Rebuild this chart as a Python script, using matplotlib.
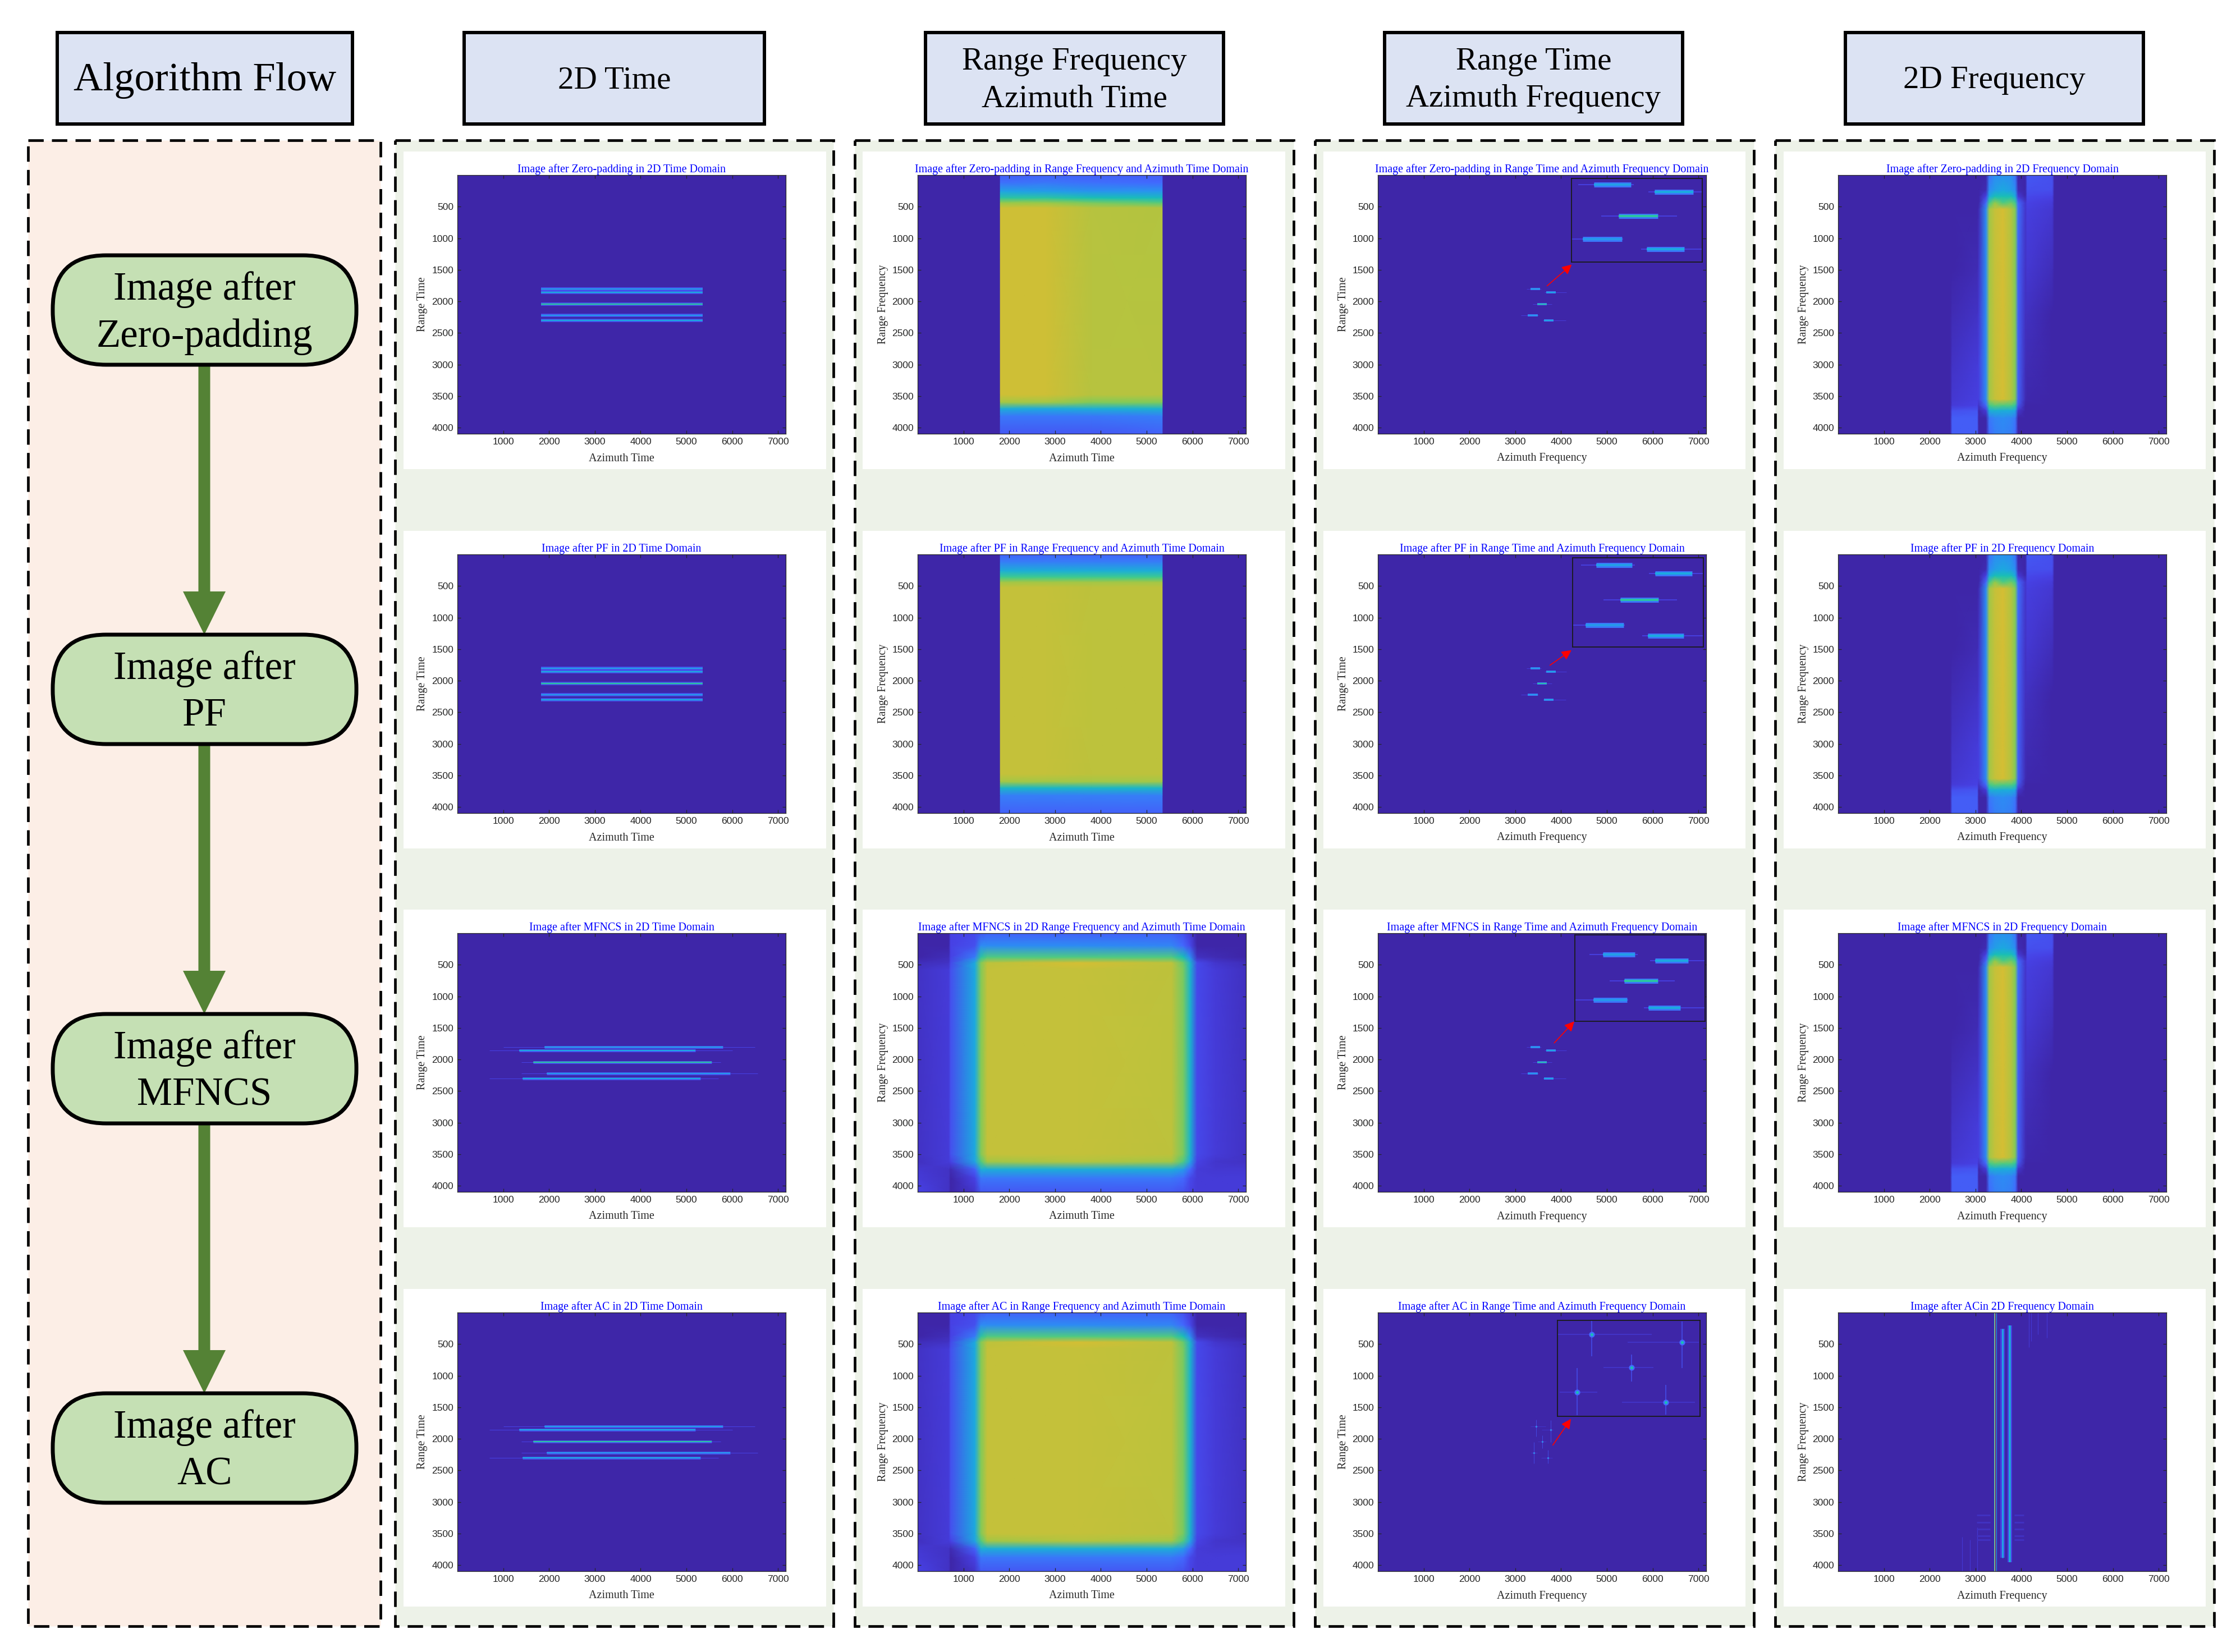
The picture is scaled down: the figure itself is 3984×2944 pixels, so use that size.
import matplotlib
matplotlib.use("Agg")
import numpy as np
import matplotlib.pyplot as plt
from matplotlib.colors import LinearSegmentedColormap
from matplotlib.patches import Rectangle, FancyBboxPatch

W, H = 3984, 2944

# matlab parula, sampled
PARULA = LinearSegmentedColormap.from_list("parula", [
    (0.2422, 0.1504, 0.6603), (0.2783, 0.2559, 0.8991), (0.2602, 0.4123, 0.9952),
    (0.1764, 0.5499, 0.9520), (0.1113, 0.6635, 0.8763), (0.0964, 0.7500, 0.7120),
    (0.2470, 0.7918, 0.5567), (0.5616, 0.7942, 0.3045), (0.9035, 0.7330, 0.1774),
    (0.9892, 0.8136, 0.1885), (0.9769, 0.9839, 0.0805)])

HEADERS = ["Algorithm Flow", "2D Time", "Range Frequency\nAzimuth Time",
           "Range Time\nAzimuth Frequency", "2D Frequency"]
STEPS = ["Image after\nZero-padding", "Image after\nPF", "Image after\nMFNCS", "Image after\nAC"]
X_LABELS = ["Azimuth Time", "Azimuth Time", "Azimuth Frequency", "Azimuth Frequency"]
Y_LABELS = ["Range Time", "Range Frequency", "Range Time", "Range Frequency"]
TITLES = [
    ["Image after Zero-padding in 2D Time Domain", "Image after PF in 2D Time Domain",
     "Image after MFNCS in 2D Time Domain", "Image after AC in 2D Time Domain"],
    ["Image after Zero-padding in Range Frequency and Azimuth Time Domain",
     "Image after PF in Range Frequency and Azimuth Time Domain",
     "Image after MFNCS in 2D Range Frequency and Azimuth Time Domain",
     "Image after AC in Range Frequency and Azimuth Time Domain"],
    ["Image after Zero-padding in Range Time and Azimuth Frequency Domain",
     "Image after PF in Range Time and Azimuth Frequency Domain",
     "Image after MFNCS in Range Time and Azimuth Frequency Domain",
     "Image after AC in Range Time and Azimuth Frequency Domain"],
    ["Image after Zero-padding in 2D Frequency Domain", "Image after PF in 2D Frequency Domain",
     "Image after MFNCS in 2D Frequency Domain", "Image after ACin 2D Frequency Domain"],
]
X_TICKS = [1000, 2000, 3000, 4000, 5000, 6000, 7000]
Y_TICKS = [500, 1000, 1500, 2000, 2500, 3000, 3500, 4000]
X_MAX, Y_MAX = 7168, 4096

# 2D time domain: range position of each target
line_y = [1800, 1860, 2045, 2225, 2300]
line_level = [0.36, 0.40, 0.55, 0.34, 0.40]
# before MFNCS all lines have the same span
zp_x0 = [1820, 1820, 1820, 1820, 1820]
zp_x1 = [5350, 5350, 5350, 5350, 5350]
# after MFNCS
mf_x0 = [1900, 1350, 1650, 1950, 1420]
mf_x1 = [5800, 5200, 5550, 5950, 5300]
mf_tail0 = [1000, 700, 1400, 1400, 700]
mf_tail1 = [6500, 6000, 5750, 6550, 5700]

# range time / azimuth frequency: short segments
seg_x0 = [3337, 3675, 3475, 3275, 3632]
seg_x1 = [3544, 3888, 3694, 3494, 3838]
seg_tail0 = [3250, 3640, 3380, 3130, 3600]
seg_tail1 = [3560, 4120, 3800, 3500, 4100]
# focused points after AC
pt_x = [3456, 3770, 3594, 3406, 3713]
pt_h0 = [3338, 3581, 3497, 3345, 3562]
pt_h1 = [3665, 3829, 3671, 3476, 3815]
pt_v0 = [1697, 1706, 1948, 2049, 2174]
pt_v1 = [1963, 2049, 2146, 2393, 2389]

# zoom boxes: box x0, x1, y0, y1, shown xlim, shown ylim, red arrow tail and tip
inset_box = [[4233, 7088, 57, 1381], [4252, 7101, 55, 1469], [4302, 7138, 24, 1394], [3920, 7038, 121, 1644]]
inset_xlim = [[3215, 3940], [3202, 3950], [3155, 3996], [3338, 3833]]
inset_ylim = [[1756, 2403], [1749, 2382], [1615, 2425], [1697, 2403]]
arrow_tail = [[3695, 1754], [3757, 1755], [3851, 1738], [3820, 2100]]
arrow_tip = [[4233, 1416], [4227, 1516], [4289, 1397], [4214, 1685]]

# range frequency / azimuth time levels
rf_x = [0, 1795, 1805, 2800, 3800, 5345, 5355, X_MAX]
rf_y = [0, 120, 260, 360, 440, 520, 3480, 3600, 3700, 3820, Y_MAX]
rf_zp = [
    [0, 0, .17, .18, .18, .17, 0, 0],
    [0, 0, .22, .24, .22, .20, 0, 0],
    [0, 0, .38, .36, .33, .33, 0, 0],
    [0, 0, .55, .55, .50, .48, 0, 0],
    [0, 0, .71, .71, .67, .63, 0, 0],
    [0, 0, .77, .77, .745, .74, 0, 0],
    [0, 0, .77, .77, .745, .745, 0, 0],
    [0, 0, .72, .72, .68, .68, 0, 0],
    [0, 0, .42, .40, .42, .44, 0, 0],
    [0, 0, .24, .24, .24, .26, 0, 0],
    [0, 0, .16, .16, .16, .18, 0, 0],
]
rf_pf = [
    [0, 0, .18, .19, .19, .18, 0, 0],
    [0, 0, .26, .26, .26, .26, 0, 0],
    [0, 0, .42, .42, .42, .42, 0, 0],
    [0, 0, .60, .60, .60, .60, 0, 0],
    [0, 0, .72, .72, .72, .72, 0, 0],
    [0, 0, .76, .76, .75, .75, 0, 0],
    [0, 0, .76, .76, .75, .75, 0, 0],
    [0, 0, .72, .72, .72, .72, 0, 0],
    [0, 0, .46, .46, .46, .46, 0, 0],
    [0, 0, .26, .26, .26, .26, 0, 0],
    [0, 0, .18, .18, .18, .18, 0, 0],
]
mf_mesh_x = [0, 680, 720, 1250, 1380, 1520, 3500, 5550, 5800, 5950, 6100, 6500, X_MAX]
mf_mesh_y = [0, 200, 380, 470, 580, 3500, 3620, 3740, 3880, Y_MAX]
rf_mf = [
    [0, 0, .10, .12, .16, .18, .18, .18, .14, .08, 0, 0, 0],
    [0, 0, .10, .14, .30, .30, .30, .28, .20, .12, 0, 0, 0],
    [0, .03, .10, .25, .55, .62, .62, .62, .50, .30, .04, .02, 0],
    [.03, .05, .12, .40, .68, .75, .78, .75, .65, .45, .12, .06, .03],
    [.05, .08, .14, .40, .68, .76, .76, .75, .67, .45, .12, .08, .04],
    [.05, .08, .14, .40, .68, .76, .76, .75, .67, .45, .12, .08, .05],
    [.04, .08, .10, .38, .62, .72, .74, .72, .62, .38, .10, .06, .05],
    [.07, .05, .02, .18, .42, .42, .42, .42, .35, .20, .08, .07, .07],
    [.08, .05, 0, .10, .24, .24, .24, .24, .20, .12, .08, .08, .08],
    [.10, .05, 0, .06, .16, .16, .16, .16, .14, .10, .08, .08, .08],
]

# 2D frequency levels
ff_x = [0, 2450, 2490, 3040, 3070, 3230, 3300, 3420, 3600, 3780, 3870, 3930, 4090, 4130, 4680, 4720, X_MAX]
ff_y = [0, 240, 340, 440, 540, 1500, 2200, 3000, 3550, 3650, 3730, 3850, Y_MAX]
ff_levels = [
    [0, 0, 0, 0, 0, 0, .22, .30, .32, .30, .22, 0, 0, .16, .14, 0, 0],
    [0, 0, 0, 0, 0, .02, .30, .36, .40, .36, .30, .02, 0, .14, .13, 0, 0],
    [0, 0, 0, 0, 0, .10, .40, .50, .50, .50, .40, .08, .01, .12, .10, 0, 0],
    [0, 0, 0, 0, 0, .20, .60, .70, .62, .66, .60, .20, .06, .10, .08, 0, 0],
    [0, 0, 0, 0, .02, .30, .72, .76, .78, .74, .68, .22, .06, .09, .07, 0, 0],
    [0, 0, 0, .02, .05, .30, .72, .76, .78, .74, .68, .18, .05, .07, .03, 0, 0],
    [0, 0, .02, .05, .07, .30, .72, .76, .78, .74, .68, .18, .04, .04, 0, 0, 0],
    [0, 0, .05, .08, .09, .30, .72, .76, .78, .74, .68, .18, .03, .02, 0, 0, 0],
    [0, 0, .07, .09, .09, .30, .72, .76, .78, .74, .68, .18, .02, .01, 0, 0, 0],
    [0, 0, .08, .10, .05, .20, .60, .64, .62, .62, .56, .15, 0, 0, 0, 0, 0],
    [0, 0, .14, .15, .01, .08, .42, .44, .42, .42, .38, .06, 0, 0, 0, 0, 0],
    [0, 0, .17, .17, 0, 0, .24, .28, .30, .28, .24, 0, 0, 0, 0, 0, 0],
    [0, 0, .17, .17, 0, 0, .20, .26, .28, .26, .20, 0, 0, 0, 0, 0, 0],
]
# 2D frequency after AC: vertical lines
ac_x = [3406, 3420, 3456, 3588, 3745]
ac_y0 = [0, 0, 0, 260, 200]
ac_y1 = [4096, 4096, 4096, 3880, 3950]
ac_level = [0.42, 0.82, 0.42, 0.38, 0.42]
ac_lw = [1, 1, 1, 3, 3.5]
ac_faint_x = [2710, 2880, 3040, 4170, 4210, 4360, 4560]
ac_faint_y0 = [3550, 3600, 3400, 0, 0, 0, 0]
ac_faint_y1 = [4096, 4096, 4096, 550, 450, 350, 400]
ac_blot_y = [3210, 3320, 3430, 3540, 3600]
ac_blot_x0 = [3030, 3030, 3030, 3030, 3030]
ac_blot_x1 = [3320, 3320, 3320, 3320, 3320]
ac_blot_r0 = [3850, 3850, 3850, 3850, 3850]
ac_blot_r1 = [4050, 4050, 4050, 4050, 4050]

# figure layout, in pixels
HEADER_BOX = [(102, 628), (827, 1362), (1649, 2180), (2467, 2998), (3288, 3819)]
COLUMN_BOX = [(50, 678), (704, 1485), (1523, 2305), (2343, 3125), (3163, 3945)]
PANEL_X = [(719, 1472), (1537, 2290), (2358, 3110), (3178, 3930)]
AXES_X = [(815, 1400), (1635, 2220), (2455, 3040), (3275, 3860)]
ROW_TOP = [270, 946, 1621, 2297]
PILL_TOP = [455, 1131, 1807, 2483]

plt.rcParams["font.family"] = "Liberation Serif"
fig = plt.figure(figsize=(W / 100, H / 100), dpi=100)
bg = fig.add_axes([0, 0, 1, 1])
bg.set_xlim(0, W)
bg.set_ylim(H, 0)
bg.axis("off")


def px_axes(x0, y0, x1, y1):
    """Axes placed by figure pixels, y going down."""
    return fig.add_axes([x0 / W, 1 - y1 / H, (x1 - x0) / W, (y1 - y0) / H])


def draw_lines(ax, y, x0, x1, level, lw):
    ax.hlines(y, x0, x1, color=PARULA(level), lw=np.asarray(lw) * 0.72, capstyle="butt")


def draw_vlines(ax, x, y0, y1, level, lw):
    ax.vlines(x, y0, y1, color=PARULA(level), lw=np.asarray(lw) * 0.72, capstyle="butt")


def draw_mesh(ax, xs, ys, levels):
    ax.pcolormesh(xs, ys, np.array(levels), cmap=PARULA, vmin=0, vmax=1, shading="gouraud")


def draw_segments(ax, core):
    draw_lines(ax, line_y, seg_tail0, seg_tail1, 0.1, core * 0.2)
    draw_lines(ax, line_y, seg_x0, seg_x1, 0.24, core)
    draw_lines(ax, line_y, seg_x0, seg_x1, line_level, core * 0.45)


def draw_points(ax, lw, size):
    draw_lines(ax, line_y, pt_h0, pt_h1, 0.07, lw)
    draw_vlines(ax, pt_x, pt_v0, pt_v1, 0.14, lw)
    ax.scatter(pt_x, line_y, s=size, color=PARULA(0.2), lw=0, zorder=3)
    ax.scatter(pt_x, line_y, s=size * 0.25, color=PARULA(0.5), lw=0, zorder=4)


def draw_inset(ax, row):
    x0, x1, y0, y1 = inset_box[row]
    inset = ax.inset_axes([x0 / X_MAX, 1 - y1 / Y_MAX, (x1 - x0) / X_MAX, (y1 - y0) / Y_MAX])
    inset.set_facecolor(PARULA(0))
    if row == 3:
        draw_points(inset, 1.5, 55)
    else:
        draw_segments(inset, 9)
    inset.set_xlim(*inset_xlim[row])
    inset.set_ylim(inset_ylim[row][1], inset_ylim[row][0])
    inset.set_xticks([])
    inset.set_yticks([])
    for spine in inset.spines.values():
        spine.set_color("#1a1a1a")
        spine.set_linewidth(1.3)
    ax.annotate("", xy=arrow_tip[row], xytext=arrow_tail[row],
                arrowprops=dict(arrowstyle="-|>", color="red", lw=1.2, mutation_scale=26,
                                shrinkA=0, shrinkB=0))


def draw_panel(ax, col, row):
    ax.set_facecolor(PARULA(0))
    if col == 0:
        if row < 2:
            draw_lines(ax, line_y, zp_x0, zp_x1, 0.13, 6)
            draw_lines(ax, line_y, zp_x0, zp_x1, line_level, 2.5)
        else:
            draw_lines(ax, line_y, mf_tail0, mf_tail1, 0.1, 1)
            draw_lines(ax, line_y, mf_x0, mf_x1, 0.15, 5)
            draw_lines(ax, line_y, mf_x0, mf_x1, line_level, 2.2)
    elif col == 1:
        if row == 0:
            draw_mesh(ax, rf_x, rf_y, rf_zp)
        elif row == 1:
            draw_mesh(ax, rf_x, rf_y, rf_pf)
        else:
            draw_mesh(ax, mf_mesh_x, mf_mesh_y, rf_mf)
    elif col == 2:
        if row < 3:
            draw_segments(ax, 4)
        else:
            draw_points(ax, 0.8, 6)
        draw_inset(ax, row)
    else:
        if row < 3:
            draw_mesh(ax, ff_x, ff_y, ff_levels)
        else:
            draw_vlines(ax, ac_faint_x, ac_faint_y0, ac_faint_y1, 0.07, 1.2)
            draw_lines(ax, ac_blot_y, ac_blot_x0, ac_blot_x1, 0.04, 3)
            draw_lines(ax, ac_blot_y, ac_blot_r0, ac_blot_r1, 0.04, 3)
            draw_vlines(ax, ac_x[3:], ac_y0[3:], ac_y1[3:], 0.1, 8)
            draw_vlines(ax, ac_x, ac_y0, ac_y1, ac_level, ac_lw)

    ax.set_xlim(0, X_MAX)
    ax.set_ylim(Y_MAX, 0)
    ax.set_xticks(X_TICKS)
    ax.set_yticks(Y_TICKS)
    ax.tick_params(which="both", direction="in", top=True, right=True, length=4.5, width=0.9,
                   color="#262626", labelcolor="#262626", labelsize=12.6, pad=5)
    for lab in ax.get_xticklabels() + ax.get_yticklabels():
        lab.set_family("Liberation Sans")
    for spine in ax.spines.values():
        spine.set_color("#262626")
        spine.set_linewidth(0.9)
    ax.set_title(TITLES[col][row], color="blue", fontsize=14.4, pad=2.5)
    ax.set_xlabel(X_LABELS[col], fontsize=14.5, va="center", color="#262626")
    ax.set_ylabel(Y_LABELS[col], fontsize=14.5, va="center", color="#262626")
    ax.xaxis.set_label_coords(0.5, -44 / 461)
    ax.yaxis.set_label_coords(-62 / 585, 0.5)


# column frames
for i, (x0, x1) in enumerate(COLUMN_BOX):
    face = "#fceee6" if i == 0 else "#edf2e8"
    bg.add_patch(Rectangle((x0, 250), x1 - x0, 2648, fc=face, ec="black", lw=3.4,
                           ls=(0, (5.8, 3.1))))

# header boxes
for (x0, x1), label in zip(HEADER_BOX, HEADERS):
    bg.add_patch(Rectangle((x0, 58), x1 - x0, 163, fc="#dce3f3", ec="black", lw=4.3))
    size = 52 if label == "Algorithm Flow" else 41
    bg.text((x0 + x1) / 2, 143, label, fontsize=size, ha="center", va="center", linespacing=1.36)

# algorithm flow column
for k, top in enumerate(PILL_TOP):
    if k < 3:
        bg.arrow(364, top + 195, 0, PILL_TOP[k + 1] - top - 195, width=21, head_width=76,
                 head_length=77, length_includes_head=True, fc="#548235", ec="none", zorder=2)
    bg.add_patch(FancyBboxPatch((94, top), 541, 195, boxstyle="round,pad=0,rounding_size=95",
                                fc="#c5e0b4", ec="black", lw=5, zorder=3))
    bg.text(364, top + 103, STEPS[k], fontsize=51, ha="center", va="center", linespacing=1.36, zorder=4)

# image panels
for col in range(4):
    px0, px1 = PANEL_X[col]
    ax0, ax1 = AXES_X[col]
    for row in range(4):
        top = ROW_TOP[row]
        bg.add_patch(Rectangle((px0, top), px1 - px0, 566, fc="white", ec="none"))
        ax = px_axes(ax0, top + 42, ax1, top + 503)
        draw_panel(ax, col, row)

fig.savefig("out.png", dpi=100)
